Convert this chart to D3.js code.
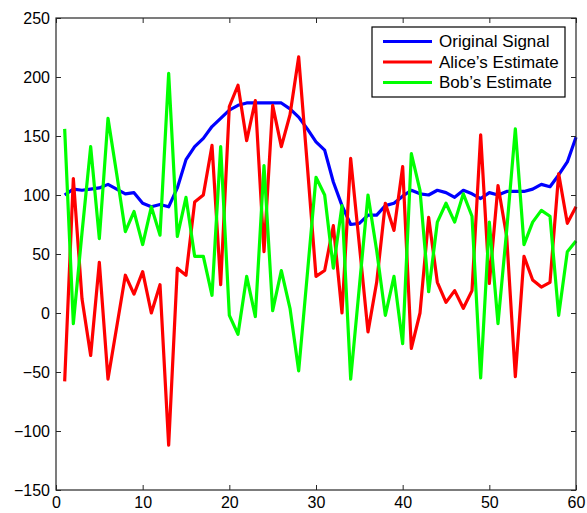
<!DOCTYPE html>
<html>
<head>
<meta charset="utf-8">
<script src="https://cdn.jsdelivr.net/npm/d3@7"></script>
<style>
    body { margin: 0; background: #fff; }
    svg { font-family: "Liberation Sans", Arial, sans-serif; }
</style>
</head>
<body>
<div id="chart"></div>
<script>
// values, x = 1..60
const original = [100, 105, 104, 105, 106, 109, 105, 101, 102, 93, 90, 92, 90, 106, 130, 141, 148, 158, 165, 172,
    176, 178, 178, 178, 178, 178, 173, 166, 156, 145, 138, 111, 91, 75, 76, 83, 83, 91, 93, 99,
    104, 101, 100, 104, 102, 98, 104, 101, 97, 102, 100, 103, 103, 103, 105, 109, 107, 117, 128, 149];
const alice = [-58, 114, 12, -36, 43, -56, -12, 32, 16, 35, 0, 24, -112, 38, 32, 94, 100, 142, 24, 175,
    193, 146, 180, 52, 176, 141, 168, 217, 125, 31, 36, 74, 0, 131, 58, -16, 26, 93, 70, 124,
    -30, 0, 81, 26, 9, 19, 4, 19, 151, 25, 108, 65, -54, 48, 28, 22, 26, 118, 76, 90];
const bob = [156, -9, 68, 141, 63, 165, 118, 69, 86, 58, 90, 66, 203, 65, 98, 48, 48, 15, 141, -2,
    -18, 31, -3, 125, 2, 36, 4, -49, 33, 115, 100, 38, 91, -56, 22, 100, 53, -2, 31, -26,
    135, 104, 18, 77, 93, 77, 101, 82, -55, 77, -9, 70, 156, 58, 77, 87, 82, -2, 52, 61];

const seriesNames = ["Original Signal", "Alice\u2019s Estimate", "Bob\u2019s Estimate"];
const seriesColors = ["#0000ff", "#ff0000", "#00ff00"];
const xTicks = [0, 10, 20, 30, 40, 50, 60];
const yTicks = [-150, -100, -50, 0, 50, 100, 150, 200, 250];

const width = 587;
const height = 513;
const margin = {top: 18, right: 11, bottom: 23, left: 56};

const svg = d3.select("#chart")
    .append("svg")
    .attr("width", width)
    .attr("height", height);

const x = d3.scaleLinear()
    .domain([0, 60])
    .range([margin.left, width - margin.right]);

const y = d3.scaleLinear()
    .domain([-150, 250])
    .range([height - margin.bottom, margin.top]);

const fmt = d => d < 0 ? "\u2212" + Math.abs(d) : String(d);

// axes, ticks pointing inward like matlab
const axisStyle = g => {
    g.select(".domain").remove();
    g.selectAll(".tick line").attr("stroke", "#262626");
    g.selectAll(".tick text").attr("fill", "#000").style("font-size", "16px");
};

svg.append("g")
    .attr("transform", `translate(0,${y(-150)})`)
    .call(d3.axisBottom(x).tickValues(xTicks).tickSize(-5).tickPadding(7).tickFormat(fmt))
    .call(axisStyle);

svg.append("g")
    .attr("transform", `translate(0,${y(250)})`)
    .call(d3.axisTop(x).tickValues(xTicks).tickSize(-5).tickFormat(""))
    .call(axisStyle);

svg.append("g")
    .attr("transform", `translate(${x(0)},0)`)
    .call(d3.axisLeft(y).tickValues(yTicks).tickSize(-5).tickPadding(6).tickFormat(fmt))
    .call(axisStyle);

svg.append("g")
    .attr("transform", `translate(${x(60)},0)`)
    .call(d3.axisRight(y).tickValues(yTicks).tickSize(-5).tickFormat(""))
    .call(axisStyle);

// lines
const line = d3.line()
    .x((d, i) => x(i + 1))
    .y(d => y(d));

const plot = svg.append("g");
[original, alice, bob].forEach((values, k) => {
    plot.append("path")
        .datum(values)
        .attr("fill", "none")
        .attr("stroke", seriesColors[k])
        .attr("stroke-width", 3.2)
        .attr("stroke-linejoin", "round")
        .attr("d", line);
});

// box
svg.append("rect")
    .attr("x", x(0))
    .attr("y", y(250))
    .attr("width", x(60) - x(0))
    .attr("height", y(-150) - y(250))
    .attr("fill", "none")
    .attr("stroke", "#262626")
    .attr("stroke-width", 1.2);

// legend
const legend = svg.append("g").attr("transform", "translate(372,27)");
legend.append("rect")
    .attr("width", 193)
    .attr("height", 70)
    .attr("fill", "#fff")
    .attr("stroke", "#000")
    .attr("stroke-width", 1.2);

seriesNames.forEach((name, k) => {
    const row = legend.append("g").attr("transform", `translate(0,${14.5 + k * 20.5})`);
    row.append("line")
        .attr("x1", 11).attr("x2", 60)
        .attr("stroke", seriesColors[k])
        .attr("stroke-width", 3.2);
    row.append("text")
        .attr("x", 67)
        .attr("dy", "0.35em")
        .style("font-size", "17px")
        .text(name);
});
</script>
</body>
</html>
